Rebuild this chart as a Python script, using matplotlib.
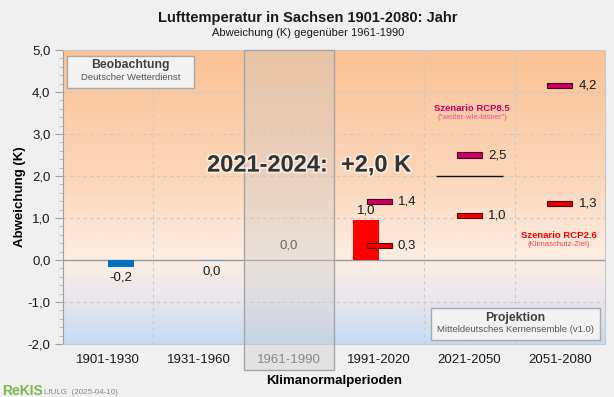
import numpy as np
import matplotlib
matplotlib.use('Agg')
import matplotlib.pyplot as plt
from matplotlib.patches import Rectangle
from matplotlib.colors import LinearSegmentedColormap
import matplotlib.patheffects as pe

plt.rcParams['font.family'] = ['Liberation Sans', 'DejaVu Sans']

# data
periods = ['1901-1930', '1931-1960', '1961-1990', '1991-2020', '2021-2050', '2051-2080']
obs_idx = [0, 1, 3]
obs_vals = [-0.17, -0.02, 0.96]
obs_labels = ['-0,2', '0,0', '1,0']
obs_colors = ['#0070C0', '#6F9FCB', '#FF0000']
ref_idx = 2
ref_label = '0,0'
proj_idx = [3, 4, 5]
rcp85 = [1.39, 2.50, 4.16]
rcp85_labels = ['1,4', '2,5', '4,2']
rcp26 = [0.34, 1.05, 1.35]
rcp26_labels = ['0,3', '1,0', '1,3']
recent_val = 2.0   # 2021-2024 mean
recent_text = '2021-2024:  +2,0 K'

W, H = 614, 397
fig = plt.figure(figsize=(W/100, H/100), dpi=100)
fig.patch.set_facecolor('#F0F0F0')

def fx(x):
    return x / W

def fy(y):
    return 1 - y / H

ax = fig.add_axes([fx(63), fy(344), (605-63)/W, (344-50)/H])
ax.set_xlim(-0.5, 5.5)
ax.set_ylim(-2, 5)

# gradient background
cmap = LinearSegmentedColormap.from_list('bg', [
    (0.0, (197/255, 218/255, 242/255)),
    (1/7, (232/255, 230/255, 238/255)),
    (2/7, (252/255, 238/255, 228/255)),
    (4/7, (252/255, 214/255, 186/255)),
    (1.0, (250/255, 194/255, 148/255))])
grad = np.linspace(0, 1, 256).reshape(-1, 1)
ax.imshow(grad, cmap=cmap, extent=[-0.5, 5.5, -2, 5], origin='lower',
          aspect='auto', zorder=0)

# grid
for yv in [-1, 1, 2, 3, 4]:
    ax.axhline(yv, color='#C9C9C9', lw=0.8, ls=(0, (3, 3)), zorder=1)
for xv in [0.5, 3.5, 4.5]:
    ax.axvline(xv, color='#C9C9C9', lw=0.8, ls=(0, (3, 3)), zorder=1)
ax.axhline(0, color='#9A9A9A', lw=1, zorder=2)

# reference period highlight
ax.add_patch(Rectangle((1.5, -2.62), 1.0, 7.62, facecolor='#C8C8C8', alpha=0.35,
                       edgecolor='none', clip_on=False, zorder=3))
ax.add_patch(Rectangle((1.5, -2.62), 1.0, 7.62, facecolor='none',
                       edgecolor='#A5A5A5', lw=1, clip_on=False, zorder=6))

bw = 0.288
mw = 0.277
mh = 0.12

# observed bars
for i, v, lab, c in zip(obs_idx, obs_vals, obs_labels, obs_colors):
    if i == 3:
        x0 = i - bw
    else:
        x0 = i
    ax.bar(x0, v, width=bw, align='edge', color=c, zorder=4)
    if v < 0:
        ax.annotate(lab, (x0 + bw/2, v), xytext=(0, -3), textcoords='offset points',
                    ha='center', va='top', fontsize=9.5, color='#1A1A1A', zorder=7)
    else:
        ax.annotate(lab, (x0 + bw/2, v), xytext=(0, 2), textcoords='offset points',
                    ha='center', va='bottom', fontsize=9.5, color='#1A1A1A', zorder=7)
ax.annotate(ref_label, (ref_idx, 0), xytext=(0, 6), textcoords='offset points',
            ha='center', va='bottom', fontsize=9.5, color='#666666', zorder=7)

# projections
for vals, labs, fc, ec in [(rcp85, rcp85_labels, '#CC0066', '#4A0025'),
                           (rcp26, rcp26_labels, '#E80000', '#5A0000')]:
    ax.bar(proj_idx, [mh]*len(vals), bottom=np.array(vals) - mh/2, width=mw,
           color=fc, edgecolor=ec, lw=0.8, zorder=5)
    for i, v, lab in zip(proj_idx, vals, labs):
        ax.annotate(lab, (i + mw/2, v), xytext=(4.5, 0), textcoords='offset points',
                    ha='left', va='center', fontsize=9.5, color='#1A1A1A', zorder=7)

# 2021-2024 line
ax.hlines(recent_val, 3.63, 4.37, color='#111111', lw=1, zorder=5)
ax.text(2.23, 2.26, recent_text, ha='center', va='center', fontsize=17,
        fontweight='bold', color='#333333', zorder=8,
        path_effects=[pe.withStroke(linewidth=2.5, foreground='#FFFFFF', alpha=0.6)])

# scenario labels
ax.text(4.03, 3.61, 'Szenario RCP8.5', ha='center', va='center', fontsize=6.8,
        fontweight='bold', color='#CC0066', zorder=7)
ax.text(4.03, 3.39, '("weiter-wie-bisher")', ha='center', va='center', fontsize=5.6,
        color='#E0559A', zorder=7)
ax.text(4.99, 0.59, 'Szenario RCP2.6', ha='center', va='center', fontsize=6.8,
        fontweight='bold', color='#FF0000', zorder=7)
ax.text(4.99, 0.36, '(Klimaschutz-Ziel)', ha='center', va='center', fontsize=5.6,
        color='#F04848', zorder=7)

# axes styling
ax.set_xticks(range(len(periods)))
ax.set_xticklabels(periods, fontsize=9.5, color='#1A1A1A')
ax.get_xticklabels()[ref_idx].set_color('#666666')
ax.tick_params(axis='x', length=0, pad=7)
ax.set_yticks(np.arange(-2, 6, 1))
ax.set_yticklabels([f'{v:.1f}'.replace('.', ',') for v in np.arange(-2, 6, 1)],
                   fontsize=9.5, color='#1A1A1A')
ax.set_yticks(np.arange(-2, 5.01, 0.2), minor=True)
ax.tick_params(axis='y', which='major', length=6, color='#A0A0A0', pad=3)
ax.tick_params(axis='y', which='minor', length=3, color='#B0B0B0')
for s in ['top', 'right', 'bottom']:
    ax.spines[s].set_color('#C8C8C8')
ax.spines['left'].set_color('#A0A0A0')

ax.set_ylabel('Abweichung (K)', fontsize=9.5, fontweight='bold', labelpad=1)
ax.set_xlabel('Klimanormalperioden', fontsize=9.5, fontweight='bold', labelpad=7)

# info boxes
fig.patches.append(Rectangle((fx(67), fy(88)), (194-67)/W, (88-56)/H,
                             transform=fig.transFigure, facecolor='#F2F2F2',
                             edgecolor='#A8A8A8', lw=1, zorder=10))
fig.text(fx(130.5), fy(65), 'Beobachtung', ha='center', va='center', fontsize=8.8,
         fontweight='bold', color='#404040', zorder=11)
fig.text(fx(130.5), fy(78), 'Deutscher Wetterdienst', ha='center', va='center',
         fontsize=6.8, color='#555555', zorder=11)
fig.patches.append(Rectangle((fx(431), fy(340)), (600-431)/W, (340-308)/H,
                             transform=fig.transFigure, facecolor='#F2F2F2',
                             edgecolor='#A8A8A8', lw=1, zorder=10))
fig.text(fx(515.5), fy(318), 'Projektion', ha='center', va='center', fontsize=8.8,
         fontweight='bold', color='#404040', zorder=11)
fig.text(fx(515.5), fy(330), 'Mitteldeutsches Kernensemble (v1.0)', ha='center',
         va='center', fontsize=6.8, color='#555555', zorder=11)

# titles
fig.text(fx(308), fy(18), 'Lufttemperatur in Sachsen 1901-2080: Jahr', ha='center',
         va='center', fontsize=10.5, fontweight='bold', color='#1A1A1A')
fig.text(fx(308), fy(33), 'Abweichung (K) gegenüber 1961-1990', ha='center',
         va='center', fontsize=8, color='#1A1A1A')

# footer
fig.text(fx(2), fy(391), 'ReKIS', ha='left', va='center', fontsize=10,
         fontweight='bold', color='#7DB84A')
fig.text(fx(44), fy(392), 'LfULG  (2025-04-10)', ha='left', va='center', fontsize=5.8,
         color='#888888')

fig.savefig('out.png', dpi=100, facecolor=fig.get_facecolor())
